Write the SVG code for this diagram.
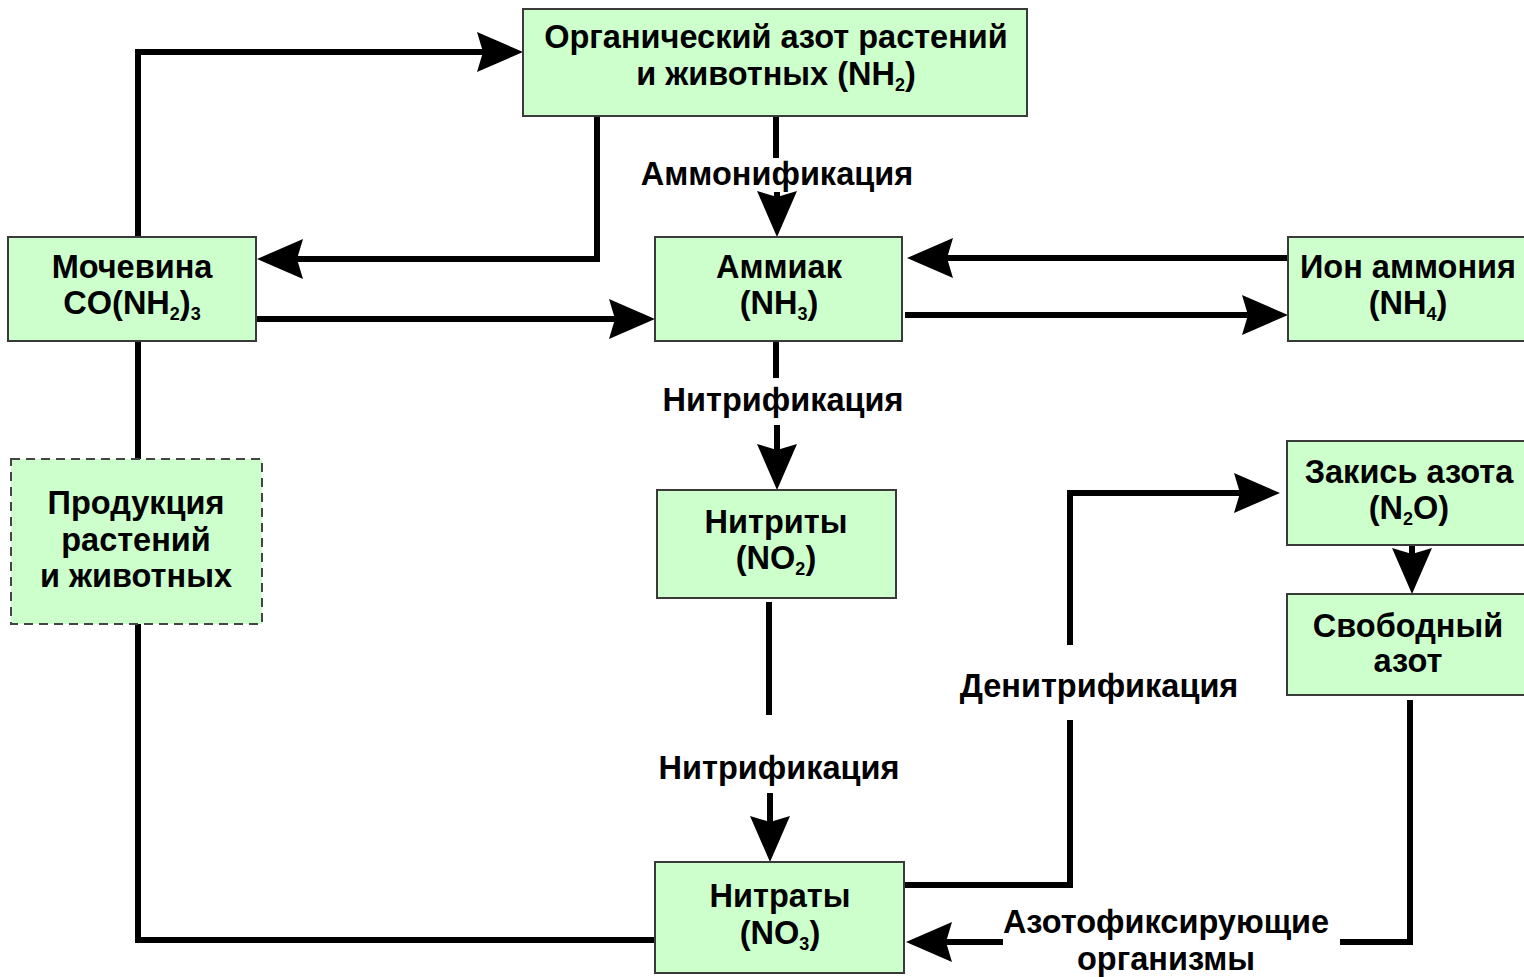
<svg xmlns="http://www.w3.org/2000/svg" width="1524" height="977" viewBox="0 0 1524 977">
  <style>
    .box { fill: #ccffcc; stroke: #3a3a3a; stroke-width: 2; }
    .dash { stroke-dasharray: 9 6; stroke: #444; }
    .t { font-family: "Liberation Sans", Arial, sans-serif; font-weight: bold; font-size: 32.5px; fill: #000; text-anchor: middle; }
    .sub { font-size: 18px; }
    .ln { fill: none; stroke: #000; stroke-width: 6; stroke-linejoin: miter; stroke-linecap: butt; }
  </style>
  <defs>
    <marker id="ah" viewBox="-47 -21 48 42" markerWidth="48" markerHeight="42" refX="-40" refY="0" orient="auto" markerUnits="userSpaceOnUse">
      <path d="M0,0 L-46,-20 L-40,0 L-46,20 Z" fill="#000"/>
    </marker>
  </defs>

  <!-- connectors -->
  <g id="connectors">
    <!-- urea -> organic nitrogen -->
    <path class="ln" d="M138,237 V52 H483" marker-end="url(#ah)"/>
    <!-- organic nitrogen -> urea -->
    <path class="ln" d="M597,116 V259 H297" marker-end="url(#ah)"/>
    <!-- ammonification -->
    <path class="ln" d="M776,116 V158"/>
    <path class="ln" d="M777,192 V197" marker-end="url(#ah)"/>
    <!-- urea -> ammonia -->
    <path class="ln" d="M256,319 H615" marker-end="url(#ah)"/>
    <!-- ammonium -> ammonia -->
    <path class="ln" d="M1288,258 H947" marker-end="url(#ah)"/>
    <!-- ammonia -> ammonium -->
    <path class="ln" d="M905,315 H1248" marker-end="url(#ah)"/>
    <!-- nitrification 1 -->
    <path class="ln" d="M776,341 V378"/>
    <path class="ln" d="M777,425 V450" marker-end="url(#ah)"/>
    <!-- nitrification 2 -->
    <path class="ln" d="M769,602 V715"/>
    <path class="ln" d="M770,793 V822" marker-end="url(#ah)"/>
    <!-- urea - production - nitrates -->
    <path class="ln" d="M138,341 V459"/>
    <path class="ln" d="M138,624 V940 H655"/>
    <!-- denitrification -->
    <path class="ln" d="M904,885 H1070 V720"/>
    <path class="ln" d="M1070,645 V493 H1240" marker-end="url(#ah)"/>
    <!-- nitrous oxide -> free nitrogen -->
    <path class="ln" d="M1412,545 V554" marker-end="url(#ah)"/>
    <!-- free nitrogen -> nitrates (fixation) -->
    <path class="ln" d="M1410,700 V942 H1340"/>
    <path class="ln" d="M1003,942 H946" marker-end="url(#ah)"/>
  </g>

  <!-- connector labels -->
  <g id="labels">
    <text class="t" x="777" y="185">Аммонификация</text>
    <text class="t" x="783" y="411">Нитрификация</text>
    <text class="t" x="779" y="779">Нитрификация</text>
    <text class="t" x="1099" y="697">Денитрификация</text>
    <text class="t" x="1166" y="933">Азотофиксирующие</text>
    <text class="t" x="1166" y="970">организмы</text>
  </g>

  <g id="organic-nitrogen">
    <rect class="box" x="523" y="9" width="504" height="107"/>
    <text class="t" x="776" y="48">Органический азот растений</text>
    <text class="t" x="776" y="85">и животных (NH<tspan class="sub" dy="6">2</tspan><tspan dy="-6">)</tspan></text>
  </g>

  <g id="urea">
    <rect class="box" x="8" y="237" width="248" height="104"/>
    <text class="t" x="132" y="278">Мочевина</text>
    <text class="t" x="132" y="314">CO(NH<tspan class="sub" dy="6">2</tspan><tspan dy="-6">)</tspan><tspan class="sub" dy="6">3</tspan></text>
  </g>

  <g id="ammonia">
    <rect class="box" x="655" y="237" width="247" height="104"/>
    <text class="t" x="779" y="278">Аммиак</text>
    <text class="t" x="779" y="314">(NH<tspan class="sub" dy="6">3</tspan><tspan dy="-6">)</tspan></text>
  </g>

  <g id="ammonium">
    <rect class="box" x="1288" y="237" width="240" height="104"/>
    <text class="t" x="1408" y="278">Ион аммония</text>
    <text class="t" x="1408" y="314">(NH<tspan class="sub" dy="6">4</tspan><tspan dy="-6">)</tspan></text>
  </g>

  <g id="production">
    <rect class="box dash" x="11" y="459" width="251" height="165"/>
    <text class="t" x="136" y="514">Продукция</text>
    <text class="t" x="136" y="551">растений</text>
    <text class="t" x="136" y="587">и животных</text>
  </g>

  <g id="nitrites">
    <rect class="box" x="657" y="490" width="239" height="108"/>
    <text class="t" x="776" y="533">Нитриты</text>
    <text class="t" x="776" y="569">(NO<tspan class="sub" dy="6">2</tspan><tspan dy="-6">)</tspan></text>
  </g>

  <g id="nitrous-oxide">
    <rect class="box" x="1287" y="441" width="241" height="104"/>
    <text class="t" x="1409" y="483">Закись азота</text>
    <text class="t" x="1409" y="519">(N<tspan class="sub" dy="6">2</tspan><tspan dy="-6">O)</tspan></text>
  </g>

  <g id="free-nitrogen">
    <rect class="box" x="1287" y="594" width="241" height="101"/>
    <text class="t" x="1408" y="637">Свободный</text>
    <text class="t" x="1408" y="672">азот</text>
  </g>

  <g id="nitrates">
    <rect class="box" x="655" y="862" width="249" height="111"/>
    <text class="t" x="780" y="907">Нитраты</text>
    <text class="t" x="780" y="944">(NO<tspan class="sub" dy="6">3</tspan><tspan dy="-6">)</tspan></text>
  </g>
</svg>
